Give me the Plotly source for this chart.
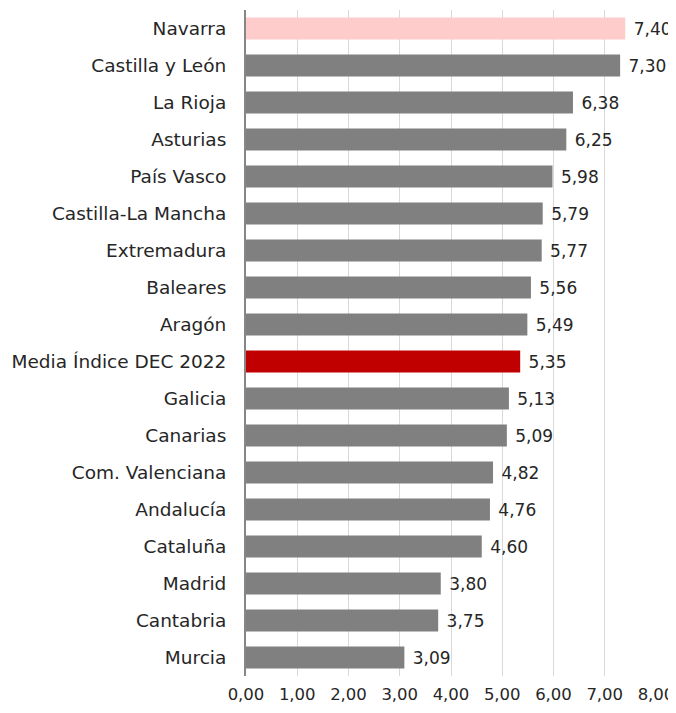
import plotly.graph_objects as go

categories = ["Navarra", "Castilla y León", "La Rioja", "Asturias", "País Vasco",
              "Castilla-La Mancha", "Extremadura", "Baleares", "Aragón",
              "Media Índice DEC 2022", "Galicia", "Canarias", "Com. Valenciana",
              "Andalucía", "Cataluña", "Madrid", "Cantabria", "Murcia"]
values = [7.40, 7.30, 6.38, 6.25, 5.98, 5.79, 5.77, 5.56, 5.49, 5.35,
          5.13, 5.09, 4.82, 4.76, 4.60, 3.80, 3.75, 3.09]
tick_vals = [0, 1, 2, 3, 4, 5, 6, 7, 8]
tick_text = ["0,00", "1,00", "2,00", "3,00", "4,00", "5,00", "6,00", "7,00", "8,00"]

def color_for(c):
    if c == "Navarra":
        return "#FFCCCC"
    if c.startswith("Media"):
        return "#C00000"
    return "#808080"

colors = [color_for(c) for c in categories]
font_family = "DejaVu Sans, sans-serif"

fig = go.Figure(go.Bar(
    y=categories, x=values, orientation="h",
    marker=dict(color=colors, line=dict(width=0)),
    width=0.6,
    text=["\u00a0" + f"{v:.2f}".replace(".", ",") for v in values],
    textposition="outside", cliponaxis=False,
    textfont=dict(size=17, color="#262626", family=font_family),
))

fig.update_layout(
    width=668, height=705,
    margin=dict(l=238, r=20, t=2, b=37),
    plot_bgcolor="white", paper_bgcolor="white",
    showlegend=False,
    font=dict(family=font_family, size=17, color="#262626"),
    xaxis=dict(range=[0, 8], tickvals=tick_vals, ticktext=tick_text,
               showgrid=True, gridcolor="#D9D9D9", gridwidth=1,
               zeroline=False, showline=False, ticks="", automargin=False,
               ticklabelstandoff=6,
               tickfont=dict(size=16.5, color="#262626")),
    yaxis=dict(autorange="reversed", showline=True, linecolor="#868686", linewidth=2,
               ticks="", ticklabelstandoff=14, automargin=False,
               tickfont=dict(size=18.5, color="#262626")),
)

fig.write_html("out.html")
